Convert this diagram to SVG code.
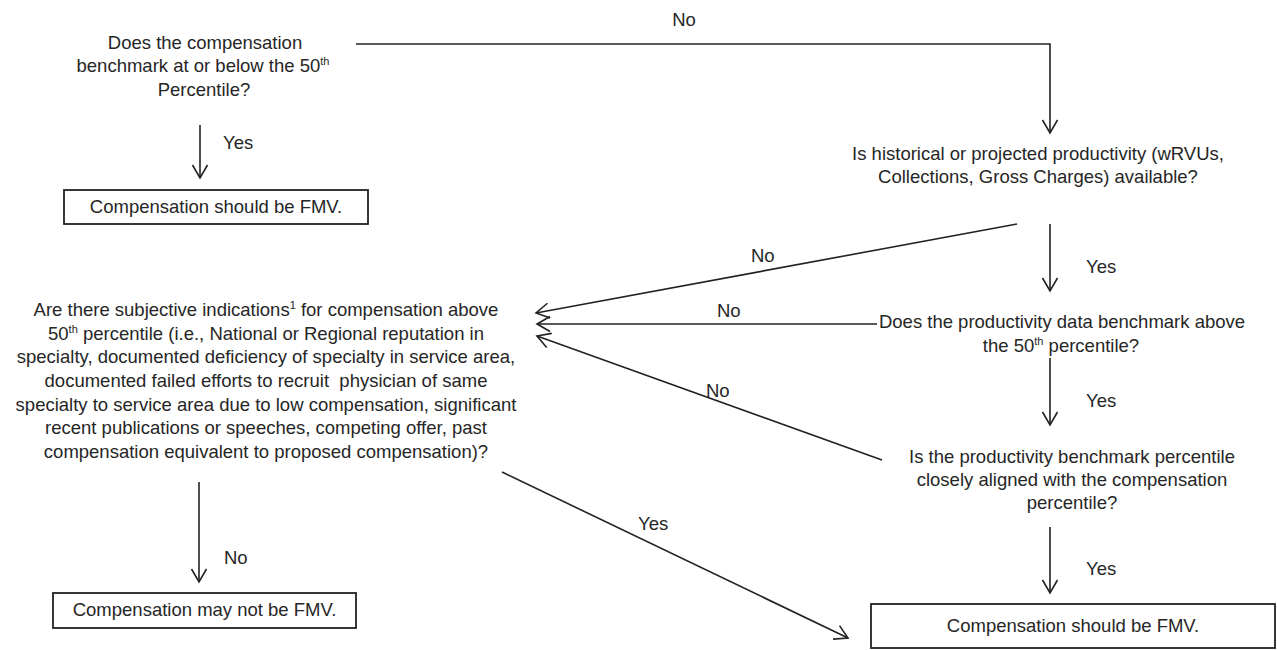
<svg xmlns="http://www.w3.org/2000/svg" width="1277" height="650" viewBox="0 0 1277 650">
<style>
text{font-family:"Liberation Sans",Arial,sans-serif;font-size:18.5px;fill:#262626;}
.c{text-anchor:middle;}
.sup{font-size:11px;}
.ln{stroke:#222;stroke-width:1.6;fill:none;}
.box{stroke:#222;stroke-width:1.8;fill:#fff;}
</style>
<defs>
<marker id="ah" markerUnits="userSpaceOnUse" markerWidth="16" markerHeight="18" refX="13" refY="7.5" orient="auto" overflow="visible">
<path d="M0,0 L13,7.5 L0,15" fill="none" stroke="#222" stroke-width="1.6"/>
</marker>
</defs>
<rect width="1277" height="650" fill="#fff"/>
<g id="connectors">
<polyline class="ln" points="356,44 1050,44 1050,133" marker-end="url(#ah)"/>
<line class="ln" x1="200" y1="125" x2="200" y2="178" marker-end="url(#ah)"/>
<line class="ln" x1="1017" y1="224" x2="536" y2="313" marker-end="url(#ah)"/>
<line class="ln" x1="1050" y1="224" x2="1050" y2="291" marker-end="url(#ah)"/>
<line class="ln" x1="877" y1="324" x2="537" y2="324" marker-end="url(#ah)"/>
<line class="ln" x1="1050" y1="358" x2="1050" y2="425" marker-end="url(#ah)"/>
<line class="ln" x1="882" y1="460" x2="537" y2="336" marker-end="url(#ah)"/>
<line class="ln" x1="1050" y1="527" x2="1050" y2="593" marker-end="url(#ah)"/>
<line class="ln" x1="199" y1="482" x2="199" y2="582" marker-end="url(#ah)"/>
<line class="ln" x1="502" y1="472" x2="848" y2="638" marker-end="url(#ah)"/>
<text class="c" x="684" y="26">No</text>
<text x="223" y="149">Yes</text>
<text x="751" y="262">No</text>
<text x="1086" y="273">Yes</text>
<text x="717" y="317">No</text>
<text x="1086" y="407">Yes</text>
<text x="706" y="397">No</text>
<text x="1086" y="575">Yes</text>
<text x="638" y="530">Yes</text>
<text x="224" y="564">No</text>
</g>
<g id="q1">
<text class="c" x="205" y="49">Does the compensation</text>
<text class="c" x="203" y="72">benchmark at or below the 50<tspan class="sup" dy="-7">th</tspan></text>
<text class="c" x="204" y="96">Percentile?</text>
</g>
<g id="fmv1">
<rect class="box" x="64" y="190" width="304" height="34"/>
<text class="c" x="216" y="213">Compensation should be FMV.</text>
</g>
<g id="q2">
<text class="c" x="1038" y="160">Is historical or projected productivity (wRVUs,</text>
<text class="c" x="1038" y="183">Collections, Gross Charges) available?</text>
</g>
<g id="q3">
<text class="c" x="1062" y="328">Does the productivity data benchmark above</text>
<text class="c" x="1061" y="352">the 50<tspan class="sup" dy="-7">th</tspan><tspan dy="7"> percentile?</tspan></text>
</g>
<g id="q4">
<text class="c" x="1072" y="463">Is the productivity benchmark percentile</text>
<text class="c" x="1072" y="486">closely aligned with the compensation</text>
<text class="c" x="1072" y="509">percentile?</text>
</g>
<g id="subjective">
<text class="c" x="266" y="316">Are there subjective indications<tspan class="sup" dy="-7">1</tspan><tspan dy="7"> for compensation above</tspan></text>
<text class="c" x="266" y="340">50<tspan class="sup" dy="-7">th</tspan><tspan dy="7"> percentile (i.e., National or Regional reputation in</tspan></text>
<text class="c" x="266" y="363">specialty, documented deficiency of specialty in service area,</text>
<text class="c" x="266" y="387" xml:space="preserve">documented failed efforts to recruit  physician of same</text>
<text class="c" x="266" y="411">specialty to service area due to low compensation, significant</text>
<text class="c" x="266" y="434">recent publications or speeches, competing offer, past</text>
<text class="c" x="266" y="458">compensation equivalent to proposed compensation)?</text>
</g>
<g id="fmv-no">
<rect class="box" x="53" y="593" width="303" height="35"/>
<text class="c" x="204.5" y="616">Compensation may not be FMV.</text>
</g>
<g id="fmv2">
<rect class="box" x="871" y="604" width="404" height="44"/>
<text class="c" x="1073" y="632">Compensation should be FMV.</text>
</g>
</svg>
